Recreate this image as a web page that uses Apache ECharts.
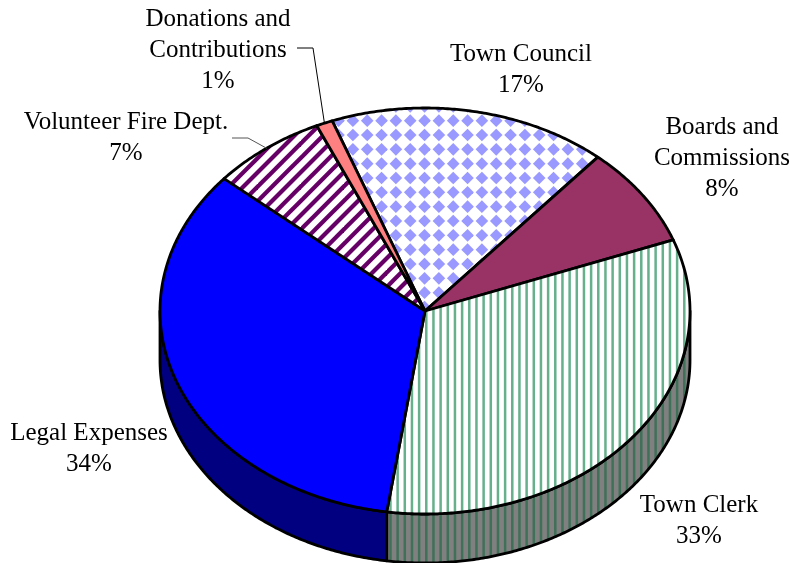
<!DOCTYPE html>
<html>
<head>
<meta charset="utf-8">
<style>html,body{margin:0;padding:0;background:#fff}#chart{width:793px;height:563px}</style>
<script src="https://cdn.jsdelivr.net/npm/echarts@6/dist/echarts.min.js"></script>
</head>
<body>
<div id="chart"></div>
<script>
// Department share of the general government budget, clockwise from Town Council
const categories = ['Town Council', 'Boards and\nCommissions', 'Town Clerk', 'Legal Expenses', 'Volunteer Fire Dept.', 'Donations and\nContributions'];
const shares = [17, 8, 33, 34, 7, 1];

// Drawing geometry of the tilted disc
const disc = { cx: 425, cy: 311, rx: 265, ry: 203, depth: 49, startAngle: 339.5 };
const labelCentres = [[521, 70], [722, 158], [699, 521], [89, 449], [126, 138], [218, 50]];
const leaderElbows = [null, null, null, null, [[232, 138], [248, 138]], [[297, 48], [313, 48]]];

function tile(size, paint) {
  const c = document.createElement('canvas');
  c.width = c.height = size;
  paint(c.getContext('2d'), size);
  return { image: c, repeat: 'repeat' };
}

function verticalStripes(back, ink) {
  return tile(43, (g, s) => {
    g.fillStyle = back; g.fillRect(0, 0, s, s);
    g.fillStyle = ink;
    for (let i = 0; i < 6; i++) g.fillRect(i * s / 6 + 2.2, 0, 2.5, s);
  });
}

const diamonds = tile(43, (g, s) => {
  const p = s / 3, h = 6.3;
  g.fillStyle = '#fff'; g.fillRect(0, 0, s, s);
  g.fillStyle = '#9999ff';
  for (let i = -1; i <= 3; i++) for (let j = -1; j <= 3; j++) {
    const x = i * p + 8.9, y = j * p + 6;
    g.beginPath();
    g.moveTo(x - h, y); g.lineTo(x, y - h); g.lineTo(x + h, y); g.lineTo(x, y + h);
    g.closePath(); g.fill();
  }
});

const diagonal = tile(43, (g, s) => {
  const p = s / 3;
  g.fillStyle = '#fff'; g.fillRect(0, 0, s, s);
  g.strokeStyle = '#660066'; g.lineWidth = 4.2;
  for (let k = -1; k <= 8; k++) {
    g.beginPath();
    g.moveTo(k * p + 10, -10); g.lineTo(k * p - s - 10, s + 10);
    g.stroke();
  }
});

const topFills = [diamonds, '#993366', verticalStripes('#fff', '#66b08c'), '#0000ff', diagonal, '#ff8080'];
const sideFills = [null, null, verticalStripes('#808080', '#3f7058'), '#000080', null, null];

const rim = (deg, drop) => {
  const a = deg * Math.PI / 180;
  return [disc.cx + disc.rx * Math.sin(a), disc.cy - disc.ry * Math.cos(a) + (drop || 0)];
};
const arc = (from, to, drop) => {
  const pts = [], n = Math.max(2, Math.ceil(Math.abs(to - from) * 2));
  for (let i = 0; i <= n; i++) pts.push(rim(from + (to - from) * i / n, drop));
  return pts;
};
const total = shares.reduce((a, b) => a + b, 0);
const outline = { stroke: '#000', lineWidth: 2.8, lineJoin: 'round' };

function renderSlice(params, api) {
  const i = params.dataIndex;
  const before = shares.slice(0, i).reduce((a, b) => a + b, 0);
  const from = disc.startAngle + before / total * 360;
  const to = from + api.value(0) / total * 360;
  const children = [];

  // Wall below the near half of the rim
  const lo = Math.max(from, 90), hi = Math.min(to, 270);
  const lo2 = Math.max(from - 360, 90), hi2 = Math.min(to - 360, 270);
  [[lo, hi], [lo2, hi2]].forEach(([a, b]) => {
    if (b > a && sideFills[i]) {
      children.push({
        type: 'polygon',
        shape: { points: arc(a, b, 0).concat(arc(b, a, disc.depth)) },
        style: Object.assign({ fill: sideFills[i] }, outline)
      });
    }
  });

  // Top face of the slice
  children.push({
    type: 'polygon',
    shape: { points: [[disc.cx, disc.cy]].concat(arc(from, to, 0)) },
    style: Object.assign({ fill: topFills[i] }, outline)
  });

  // Leader line from the label to the middle of the slice's rim
  if (leaderElbows[i]) {
    children.push({
      type: 'polyline',
      shape: { points: leaderElbows[i].concat([rim((from + to) / 2)]) },
      style: { stroke: i === 4 ? '#555' : '#000', lineWidth: 1, fill: null }
    });
  }
  return { type: 'group', children };
}

function renderLabel(params, api) {
  const i = params.dataIndex;
  return {
    type: 'text',
    x: labelCentres[i][0],
    y: labelCentres[i][1],
    style: {
      text: categories[i] + '\n' + api.value(0) + '%',
      fill: '#000',
      font: '25px "Liberation Serif", serif',
      lineHeight: 31,
      align: 'center',
      verticalAlign: 'middle'
    }
  };
}

const chart = echarts.init(document.getElementById('chart'), null, { renderer: 'canvas' });
chart.setOption({
  animation: false,
  backgroundColor: '#fff',
  series: [
    { type: 'custom', coordinateSystem: 'none', silent: true, clip: false, data: shares, renderItem: renderSlice },
    { type: 'custom', coordinateSystem: 'none', silent: true, clip: false, data: shares, renderItem: renderLabel }
  ]
});
</script>
</body>
</html>
